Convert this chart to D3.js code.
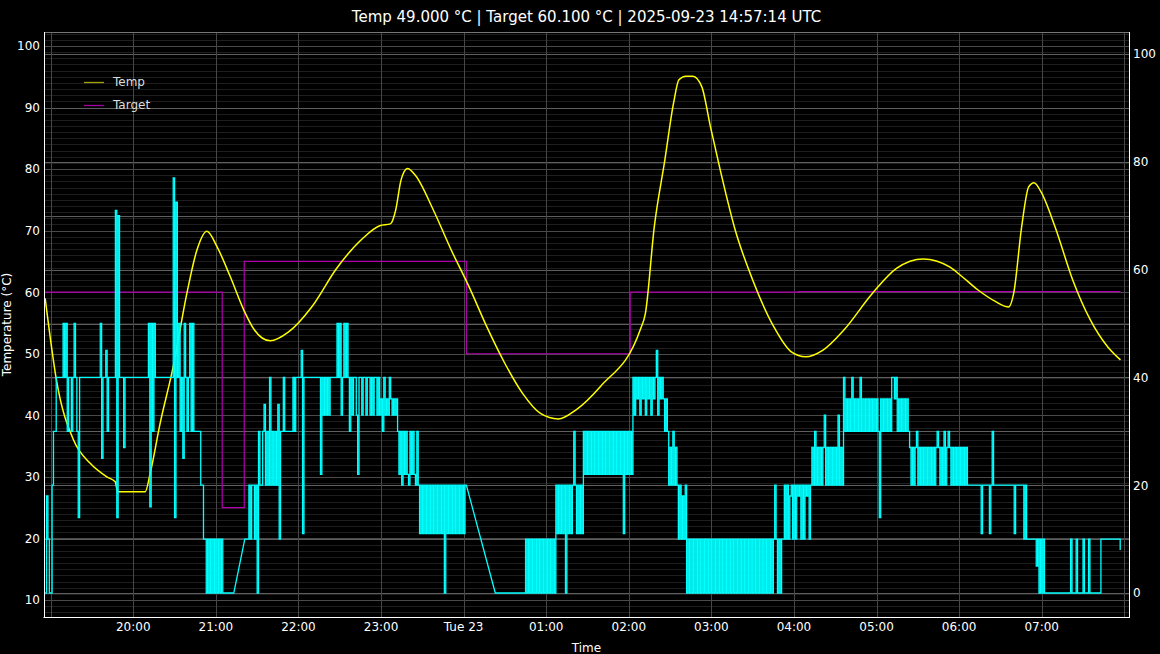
<!DOCTYPE html>
<html><head><meta charset="utf-8">
<script src="https://cdn.jsdelivr.net/npm/d3@7"></script>
<style>
html,body{margin:0;padding:0;background:#000;}
svg{display:block;}
text{font-family:"DejaVu Sans",sans-serif;fill:#fff;}
</style>
</head><body>
<svg id="chart" width="1160" height="654"></svg>
<script>
// ---------------- DATA ----------------
const chartTitle = "Temp 49.000 °C | Target 60.100 °C | 2025-09-23 14:57:14 UTC";
const xAxisTitle = "Time";
const yAxisTitle = "Temperature (°C)";
const seriesNames = ["Temp", "Target"];

// minutes relative to Mon 2025-09-22 19:00 local
const xDomainMinutes = [-4.87, 783.4];
const xGridMinutes = [0, 60, 120, 180, 240, 300, 360, 420, 480, 540, 600, 660, 720, 780];
const xTickMinutes = [60, 120, 180, 240, 300, 360, 420, 480, 540, 600, 660, 720];
const yLeftDomain = [7.24, 102.27];
const yLeftTicks = [10, 20, 30, 40, 50, 60, 70, 80, 90, 100];
const yRightDomain = [-4.45, 104.08];
const yRightTicks = [0, 20, 40, 60, 80, 100];
const yRightGrid = [0, 10, 20, 30, 40, 50, 60, 70, 80, 90, 100];

// Temp (°C)
const tempMinutes = [-4.0, 4.5, 16.6, 28.7, 40.8, 46.9, 48.6, 68.7, 72.3, 79.6, 89.0, 99.0, 106.3, 113.5,
  120.8, 130.5, 140.3, 147.9, 159.5, 172.6, 189.6, 207.8, 226.0, 239.0, 246.8, 250.7, 254.5, 259.2, 264.9,
  277.9, 290.9, 303.9, 316.8, 329.8, 342.7, 355.8, 368.8, 381.7, 399.4, 428.3, 432.1, 438.5, 446.2, 452.5,
  456.4, 461.5, 466.6, 473.0, 479.3, 487.0, 497.3, 510.0, 525.3, 538.1, 548.4, 561.1, 576.4, 596.9, 614.7,
  633.9, 653.1, 660.7, 673.5, 686.3, 696.0, 699.6, 705.4, 710.5, 714.4, 719.5, 729.7, 742.5, 755.3, 768.0, 777.2];
const tempValues = [59.0, 45.3, 36.0, 32.2, 30.0, 29.2, 27.6, 27.6, 30.6, 38.8, 47.9, 59.9, 66.9, 69.9,
  67.4, 62.5, 57.1, 53.9, 52.1, 53.5, 57.6, 63.9, 68.6, 70.8, 71.1, 73.4, 78.2, 80.1, 79.0,
  73.4, 66.9, 60.9, 54.4, 48.5, 43.6, 40.3, 39.4, 40.9, 44.7, 53.9, 56.6, 70.6, 81.5, 90.7,
  94.5, 95.1, 95.1, 93.4, 86.9, 79.3, 70.1, 62.0, 54.4, 50.3, 49.5, 50.6, 53.9, 59.8, 63.9,
  65.4, 64.1, 62.8, 60.4, 58.5, 57.6, 59.8, 70.6, 77.1, 77.8, 76.3, 70.6, 62.0, 55.5, 51.1, 49.0];

// Target (°C), held until the next change
const targetMinutes = [-4.0, 124.6, 140.6, 302.0, 421.0, 543.0, 777.2];
const targetValues = [60.0, 25.0, 65.0, 50.0, 60.0, 60.1, 60.1];

// Heater power (%), right axis: one character per minute, '.' = no sample
const powerRowStarts = [-4, 0, 60, 120, 180, 240, 300, 360, 420, 480, 540, 600, 660, 720];
const powerRows = [
  "0e10",
  "023344444" + "54534434543g" + "444444444444444" + "5h44f3" + "44444" + "agi" + "444" + "j" + "444444",
  "44444444444" + "5k5354" + "444444444444" + "bgc" + "4534h54345353" + "3333" + "22" + "11" + "0101010",
  "10101" + "000000000" + "......." + "111" + "21221203223" + "n232423232n1" + "334333333" + "4344",
  "44" + "fp" + "444444444444" + "q4r4r4r" + "44444" + "545r45454" + "34r44r" + "q44r44" + "r44r4r44r4r",
  "s34rsr4srsrs" + "3q323q3q23q3q232p" + "2p2p2p2p2p2p2p2p2" + "0" + "2p2p2p2p2p2p2",
  "p22" + "...................." + "0" + "000000000000000000000" + "101010101010101",
  "0101010" + "2p2p2p202p2p232p2p2p" + "3q3q3q3q3q3q3q3q3q3q3q3q3q3q3" + "p" + "3q3",
  "q3q" + "4" + "r4s4r4s4r4s4r4s4" + "f" + "r4s4s3s" + "32j232j2" + "121e12" + "010101010101010101",
  "0101010101" + "0101010101" + "0101010101" + "0101010101" + "010101" + "2" + "10101" + "12121e21",
  "212e21212e21" + "2j232j2j2jr2j2j2j2j2r2j2" + "43s3s343s3s343s3s3s3s3s3",
  "s3gs3s3s3s344s43s3s3s3s3j" + "2j2j32j2j2j2j2j2j2j3j2j232j3j2j2j2j",
  "2j2j2j" + "2222222222" + "p" + "22222" + "p" + "2" + "3" + "222222222222222" + "p" + "22222" + "2121" + "11111" + "1u101",
  "010" + "000000000000000000" + "1" + "000" + "1" + "0000" + "1" + "000" + "1" + "00000000" + "11111111111111" + "v"
];
const powerCodeChars = ["0","1","2","3","4","5","a","b","c","e","f","g","h","i","j","k","n","p","q","r","s","u","v"];
const powerCodeValues = [0, 10, 20, 30, 40, 50, 71, 77, 72.5, 18, 45, 14, 25, 70, 27, 16, 35, 11, 22, 33, 36, 5, 8];

// ---------------- CHART ----------------
const svg = d3.select("#chart");
const L = 44, R = 1129, T = 32, B = 617;
const base = new Date(2025, 8, 22, 19, 0, 0);
const atMin = m => new Date(base.getTime() + m * 60000);

const x = d3.scaleTime().domain(xDomainMinutes.map(atMin)).range([L, R]);
const yL = d3.scaleLinear().domain(yLeftDomain).range([B, T]);
const yR = d3.scaleLinear().domain(yRightDomain).range([B, T]);

svg.append("rect").attr("width", 1160).attr("height", 654).attr("fill", "#000");

svg.append("clipPath").attr("id", "clip").append("rect")
  .attr("x", L).attr("y", T).attr("width", R - L).attr("height", B - T);

const grid = svg.append("g").attr("clip-path", "url(#clip)");
const hline = (y, c) => grid.append("line").attr("x1", L).attr("x2", R)
  .attr("y1", Math.round(y) + 0.5).attr("y2", Math.round(y) + 0.5).attr("stroke", c).attr("stroke-width", 1);

// minor grid (left axis, every 1 °C)
d3.range(Math.ceil(yLeftDomain[0]), yLeftDomain[1], 1).forEach(v => { if (v % 10) hline(yL(v), "#1e1e1e"); });
// major grids
yLeftTicks.forEach(v => hline(yL(v), "#4a4a4a"));
yRightGrid.forEach(v => hline(yR(v), "#5e5e5e"));
xGridMinutes.forEach(m => {
  const xx = Math.round(x(atMin(m))) + 0.5;
  grid.append("line").attr("x1", xx).attr("x2", xx).attr("y1", T).attr("y2", B)
    .attr("stroke", "#474747").attr("stroke-width", 1);
});

const plot = svg.append("g").attr("clip-path", "url(#clip)");

// Target
const targetPts = targetMinutes.map((m, i) => [atMin(m), targetValues[i]]);
plot.append("path")
  .attr("d", d3.line().x(d => x(d[0])).y(d => yL(d[1])).curve(d3.curveStepAfter)(targetPts))
  .attr("fill", "none").attr("stroke", "#b000b0").attr("stroke-width", 1.2);

// Temp
const tempPts = tempMinutes.map((m, i) => [atMin(m), tempValues[i]]);
plot.append("path")
  .attr("d", d3.line().x(d => x(d[0])).y(d => yL(d[1])).curve(d3.curveMonotoneX)(tempPts))
  .attr("fill", "none").attr("stroke", "#ffff00").attr("stroke-width", 1.5);

// Power: held between consecutive samples, straight across gaps
const codeMap = new Map(powerCodeChars.map((c, i) => [c, powerCodeValues[i]]));
const powerPts = [];
powerRows.forEach((row, r) => {
  for (let i = 0; i < row.length; i++) {
    const c = row[i];
    if (c === ".") continue;
    powerPts.push([atMin(powerRowStarts[r] + i), codeMap.get(c)]);
  }
});
let powerPath = "";
powerPts.forEach((p, i) => {
  const px = x(p[0]), py = yR(p[1]);
  if (i === 0) { powerPath += `M${px},${py}`; return; }
  const gapMin = (p[0] - powerPts[i - 1][0]) / 60000;
  powerPath += gapMin > 1.5 ? `L${px},${py}` : `H${px}V${py}`;
});
plot.append("path").attr("d", powerPath)
  .attr("fill", "none").attr("stroke", "#00ffff").attr("stroke-width", 1.3);

// spines
svg.append("line").attr("x1", L).attr("x2", R).attr("y1", T + 0.5).attr("y2", T + 0.5).attr("stroke", "#777");
svg.append("line").attr("x1", L - 0.5).attr("x2", R + 0.5).attr("y1", B + 0.5).attr("y2", B + 0.5).attr("stroke", "#fff");
svg.append("line").attr("x1", L + 0.5).attr("x2", L + 0.5).attr("y1", T).attr("y2", B + 1).attr("stroke", "#fff");
svg.append("line").attr("x1", R + 0.5).attr("x2", R + 0.5).attr("y1", T).attr("y2", B + 1).attr("stroke", "#fff");

// tick labels
const fmt = d => (d.getHours() === 0 ? d3.timeFormat("%a %d")(d) : d3.timeFormat("%H:%M")(d));
xTickMinutes.forEach(m => {
  const d = atMin(m);
  svg.append("text").attr("x", x(d)).attr("y", 631).attr("text-anchor", "middle")
    .attr("font-size", 12).text(fmt(d));
});
yLeftTicks.forEach(v => svg.append("text").attr("x", 40).attr("y", yL(v)).attr("dy", "0.36em")
  .attr("text-anchor", "end").attr("font-size", 12).text(v));
yRightTicks.forEach(v => svg.append("text").attr("x", 1133).attr("y", yR(v)).attr("dy", "0.36em")
  .attr("text-anchor", "start").attr("font-size", 12).text(v));

// titles
svg.append("text").attr("x", (L + R) / 2).attr("y", 22).attr("text-anchor", "middle")
  .attr("font-size", 15).text(chartTitle);
svg.append("text").attr("x", (L + R) / 2).attr("y", 652).attr("text-anchor", "middle")
  .attr("font-size", 12).text(xAxisTitle);
svg.append("text").attr("transform", `translate(11,${(T + B) / 2}) rotate(-90)`)
  .attr("text-anchor", "middle").attr("font-size", 12).text(yAxisTitle);

// legend
const legendColors = ["#a3a300", "#a000a0"];
seriesNames.forEach((name, i) => {
  const yy = 82 + i * 23;
  svg.append("line").attr("x1", 84).attr("x2", 104).attr("y1", yy + 0.5).attr("y2", yy + 0.5)
    .attr("stroke", legendColors[i]).attr("stroke-width", 1.3);
  svg.append("text").attr("x", 113).attr("y", yy).attr("dy", "0.36em").attr("font-size", 12)
    .style("fill", "#dddddd").text(name);
});
</script>
</body></html>
